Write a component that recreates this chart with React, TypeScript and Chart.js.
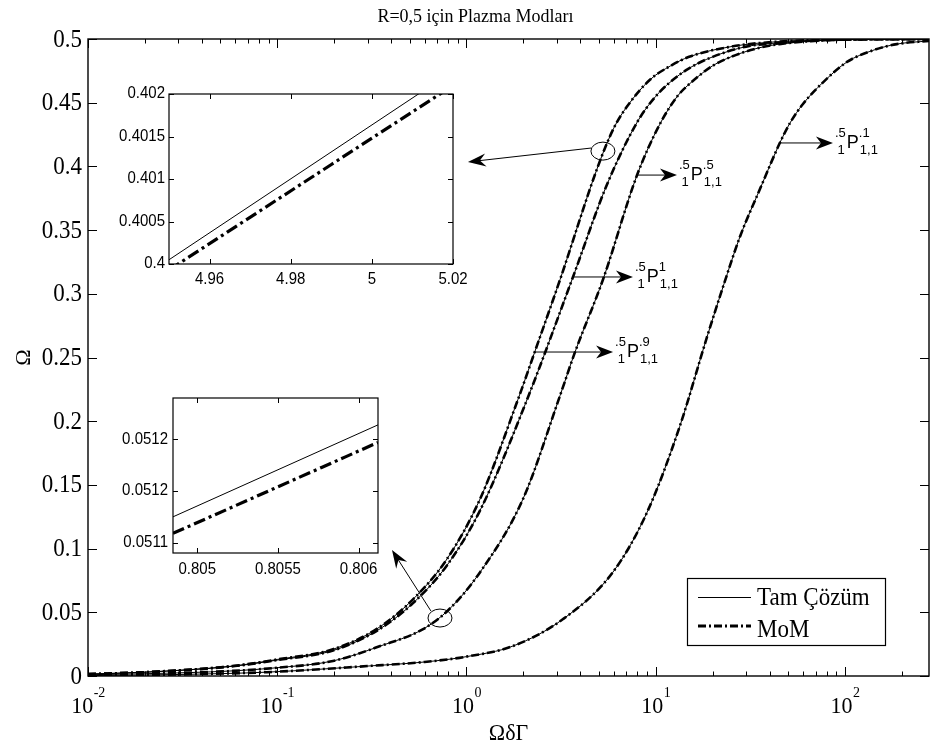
import { useEffect, useRef } from 'react';
import { Chart, registerables } from 'chart.js';
Chart.register(...registerables);

// ---------- data ----------
const xA = [0.01, 0.02, 0.058, 0.1, 0.197, 0.336, 0.52, 0.79, 1.18, 1.87, 2.29, 3.12, 4.95, 6, 7.05, 9.32, 12, 15, 25, 45, 100, 278];
const yA = [0.0015, 0.003, 0.0078, 0.013, 0.021, 0.037, 0.06, 0.092, 0.139, 0.217, 0.254, 0.311, 0.4, 0.43, 0.447, 0.468, 0.479, 0.486, 0.494, 0.498, 0.4995, 0.5];
const xB = [0.01, 0.02, 0.058, 0.1, 0.197, 0.336, 0.52, 0.79, 1.18, 2.09, 3.65, 5.5, 8, 10, 11.9, 15, 20, 30, 45, 100, 278];
const yB = [0.0015, 0.003, 0.0076, 0.0125, 0.02, 0.0355, 0.057, 0.087, 0.13, 0.217, 0.313, 0.385, 0.435, 0.455, 0.466, 0.477, 0.486, 0.494, 0.497, 0.4995, 0.5];
const xC = [0.01, 0.02, 0.058, 0.1, 0.197, 0.35, 0.59, 0.805, 1.18, 1.99, 3.12, 3.74, 5.26, 7.96, 10.5, 13, 15.7, 20, 25, 35, 45, 100, 278];
const yC = [0.001, 0.0018, 0.004, 0.0065, 0.0118, 0.0235, 0.0368, 0.052, 0.0815, 0.139, 0.22, 0.254, 0.311, 0.393, 0.433, 0.455, 0.467, 0.479, 0.486, 0.493, 0.496, 0.4995, 0.5];
const xD = [0.01, 0.03, 0.088, 0.3, 0.6, 1.0, 1.76, 3.24, 5.94, 9.0, 13.4, 18.7, 22.7, 27.9, 35.5, 45.3, 51.2, 60, 76.6, 102.5, 140, 188, 278];
const yD = [0.0003, 0.0012, 0.003, 0.0078, 0.011, 0.0152, 0.0235, 0.0447, 0.0815, 0.1285, 0.196, 0.2665, 0.3056, 0.345, 0.382, 0.4185, 0.434, 0.449, 0.466, 0.482, 0.491, 0.496, 0.4985];

const xMajorTicks = [0.01, 0.1, 1, 10, 100];
const xTickExponents = ['-2', '-1', '0', '1', '2'];
const yTicks = [0, 0.05, 0.1, 0.15, 0.2, 0.25, 0.3, 0.35, 0.4, 0.45, 0.5];
const yTickLabels = ['0', '0.05', '0.1', '0.15', '0.2', '0.25', '0.3', '0.35', '0.4', '0.45', '0.5'];

const titleText = 'R=0,5 için Plazma Modları';
const xAxisTitle = 'ΩδΓ';
const yAxisTitle = 'Ω';
const legendLabels = ['Tam Çözüm', 'MoM'];

// mode labels (arrow start on curve, arrow tip) in data coordinates
const modeSup = ['.1', '.5', '1', '.9'];
const modeArrowFromX = [45.4, 7.96, 3.65, 2.29];
const modeArrowToX = [86.4, 12.95, 7.58, 5.95];
const modeArrowY = [0.4184, 0.3932, 0.3132, 0.2543];

// zoom circles and their arrows (data coordinates)
const circleX = [5.26, 0.7244];
const circleY = [0.412, 0.0455];
const zoomArrowFromX = [4.55, 0.649];
const zoomArrowFromY = [0.4144, 0.051];
const zoomArrowToX = [1.018, 0.404];
const zoomArrowToY = [0.4035, 0.0989];

// upper inset
const upX = [4.95, 5.02];
const upExact = [0.40005, 0.40227];
const upMoM = [0.39993, 0.4021];
const upTicksX = [4.96, 4.98, 5, 5.02];
const upTickLabelsX = ['4.96', '4.98', '5', '5.02'];
const upTicksY = [0.4, 0.4005, 0.401, 0.4015, 0.402];
const upTickLabelsY = ['0.4', '0.4005', '0.401', '0.4015', '0.402'];

// lower inset
const loX = [0.80485, 0.80612];
const loExact = [0.051135, 0.051224];
const loMoM = [0.051119, 0.051207];
const loTicksX = [0.805, 0.8055, 0.806];
const loTickLabelsX = ['0.805', '0.8055', '0.806'];
const loTicksY = [0.05111, 0.05116, 0.05121];
const loTickLabelsY = ['0.0511', '0.0512', '0.0512'];

// ---------- styles ----------
const SERIF = '"Liberation Serif", "Times New Roman", serif';
const SANS = '"Liberation Sans", Arial, sans-serif';
const SY = 1.08;
const MOM_DASH = [8, 3, 2, 3];
const INSET_DASH = [12, 4, 3, 4];

const pts = (xs: number[], ys: number[]) => xs.map((x, i) => ({ x, y: ys[i] }));

function txt(ctx: CanvasRenderingContext2D, s: string, x: number, y: number, font: string, align: CanvasTextAlign, baseline: CanvasTextBaseline = 'alphabetic', sy = SY) {
  ctx.save();
  ctx.translate(x, y);
  ctx.scale(1, sy);
  ctx.font = font;
  ctx.textAlign = align;
  ctx.textBaseline = baseline;
  ctx.fillStyle = '#000';
  ctx.fillText(s, 0, 0);
  ctx.restore();
}

function arrow(ctx: CanvasRenderingContext2D, x1: number, y1: number, x2: number, y2: number, len = 15, half = 6, back = 5) {
  const ang = Math.atan2(y2 - y1, x2 - x1);
  const ux = Math.cos(ang), uy = Math.sin(ang);
  const nx = -uy, ny = ux;
  const bx = x2 - ux * len, by = y2 - uy * len;
  const notchX = x2 - ux * (len - back), notchY = y2 - uy * (len - back);
  ctx.save();
  ctx.strokeStyle = '#000';
  ctx.fillStyle = '#000';
  ctx.lineWidth = 1;
  ctx.beginPath();
  ctx.moveTo(x1, y1);
  ctx.lineTo(notchX, notchY);
  ctx.stroke();
  ctx.beginPath();
  ctx.moveTo(x2, y2);
  ctx.lineTo(bx + nx * half, by + ny * half);
  ctx.lineTo(notchX, notchY);
  ctx.lineTo(bx - nx * half, by - ny * half);
  ctx.closePath();
  ctx.fill();
  ctx.restore();
}

function drawFrame(chart: any, xMaj: number[], xMin: number[], yMaj: number[], majLen: number, minLen: number, lw: number) {
  const { ctx, chartArea: a, scales } = chart;
  const sx = scales.x, sy = scales.y;
  ctx.save();
  ctx.strokeStyle = '#000';
  ctx.lineWidth = lw;
  ctx.strokeRect(a.left, a.top, a.right - a.left, a.bottom - a.top);
  ctx.lineWidth = 1;
  ctx.beginPath();
  const tickX = (v: number, L: number) => {
    const p = Math.round(sx.getPixelForValue(v)) + 0.5;
    ctx.moveTo(p, a.bottom); ctx.lineTo(p, a.bottom - L);
    ctx.moveTo(p, a.top); ctx.lineTo(p, a.top + L);
  };
  xMaj.forEach(v => tickX(v, majLen));
  xMin.forEach(v => tickX(v, minLen));
  yMaj.forEach(v => {
    const p = Math.round(sy.getPixelForValue(v)) + 0.5;
    ctx.moveTo(a.left, p); ctx.lineTo(a.left + majLen, p);
    ctx.moveTo(a.right, p); ctx.lineTo(a.right - majLen, p);
  });
  ctx.stroke();
  ctx.restore();
}

function minorLogTicks(min: number, max: number) {
  const out: number[] = [];
  for (let e = Math.floor(Math.log10(min)); e <= Math.ceil(Math.log10(max)); e++) {
    for (let k = 2; k <= 9; k++) {
      const v = k * Math.pow(10, e);
      if (v > min && v < max) out.push(v);
    }
  }
  return out;
}

const X_MIN = 0.01, X_MAX = 278;

const mainDecor = {
  id: 'mainDecor',
  beforeDraw(chart: any) {
    const { ctx } = chart;
    ctx.save();
    ctx.fillStyle = '#fff';
    ctx.fillRect(0, 0, chart.width, chart.height);
    ctx.restore();
  },
  afterDraw(chart: any) {
    const { ctx, chartArea: a, scales } = chart;
    const sx = scales.x, sy = scales.y;
    drawFrame(chart, xMajorTicks, minorLogTicks(X_MIN, X_MAX), yTicks, 9, 4.5, 1.4);

    // y tick labels
    yTicks.forEach((v, i) => {
      txt(ctx, yTickLabels[i], a.left - 6, sy.getPixelForValue(v) + 1, `23px ${SERIF}`, 'right', 'middle');
    });
    // x tick labels 10^n
    xMajorTicks.forEach((v, i) => {
      const p = sx.getPixelForValue(v);
      ctx.font = `22px ${SERIF}`;
      const w1 = ctx.measureText('10').width;
      ctx.font = `14px ${SERIF}`;
      const w2 = ctx.measureText(xTickExponents[i]).width;
      const start = p - (w1 + w2) / 2;
      txt(ctx, '10', start, a.bottom + 37, `22px ${SERIF}`, 'left');
      txt(ctx, xTickExponents[i], start + w1 + 0.5, a.bottom + 21, `14px ${SERIF}`, 'left');
    });
    // titles
    txt(ctx, titleText, 475.5, 21.5, `18px ${SERIF}`, 'center');
    txt(ctx, xAxisTitle, (a.left + a.right) / 2, a.bottom + 64, `22px ${SERIF}`, 'center');
    ctx.save();
    ctx.translate(24, (a.top + a.bottom) / 2);
    ctx.rotate(-Math.PI / 2);
    txt(ctx, yAxisTitle, 0, 0, `22px ${SERIF}`, 'center', 'middle', 1);
    ctx.restore();

    // mode arrows and labels
    modeSup.forEach((sup, i) => {
      const x1 = sx.getPixelForValue(modeArrowFromX[i]);
      const x2 = sx.getPixelForValue(modeArrowToX[i]);
      const y = sy.getPixelForValue(modeArrowY[i]);
      arrow(ctx, x1, y, x2, y, 17, 6.5, 5);
      const x0 = x2 + 2;
      const yb = y + 5;
      ctx.font = `13px ${SANS}`;
      const lw = Math.max(ctx.measureText('.5').width, ctx.measureText('1').width);
      txt(ctx, '.5', x0 + lw, yb - 11, `13px ${SANS}`, 'right', 'alphabetic', 1);
      txt(ctx, '1', x0 + lw - 1, yb + 6, `13px ${SANS}`, 'right', 'alphabetic', 1);
      const px = x0 + lw + 1;
      ctx.font = `18px ${SANS}`;
      const wp = ctx.measureText('P').width;
      txt(ctx, 'P', px, yb, `18px ${SANS}`, 'left', 'alphabetic', 1);
      txt(ctx, sup, px + wp, yb - 11, `13px ${SANS}`, 'left', 'alphabetic', 1);
      txt(ctx, '1,1', px + wp + 1, yb + 6, `13px ${SANS}`, 'left', 'alphabetic', 1);
    });

    // zoom circles + arrows
    circleX.forEach((cxv, i) => {
      const cx = sx.getPixelForValue(cxv), cy = sy.getPixelForValue(circleY[i]);
      ctx.save();
      ctx.strokeStyle = '#000';
      ctx.lineWidth = 1;
      ctx.beginPath();
      ctx.ellipse(cx, cy, 12, 9, 0, 0, Math.PI * 2);
      ctx.stroke();
      ctx.restore();
      arrow(ctx, sx.getPixelForValue(zoomArrowFromX[i]), sy.getPixelForValue(zoomArrowFromY[i]),
        sx.getPixelForValue(zoomArrowToX[i]), sy.getPixelForValue(zoomArrowToY[i]), 18, 6.5, 6);
    });

    // legend
    const L = 687, T = 578, R = 885, B = 645;
    ctx.save();
    ctx.fillStyle = '#fff';
    ctx.fillRect(L, T, R - L, B - T);
    ctx.strokeStyle = '#000';
    ctx.lineWidth = 1.2;
    ctx.strokeRect(L + 0.5, T + 0.5, R - L, B - T);
    ctx.lineWidth = 1;
    ctx.beginPath();
    ctx.moveTo(698, 597.5); ctx.lineTo(751, 597.5);
    ctx.stroke();
    ctx.lineWidth = 3;
    ctx.setLineDash(MOM_DASH);
    ctx.beginPath();
    ctx.moveTo(698, 626); ctx.lineTo(751, 626);
    ctx.stroke();
    ctx.restore();
    txt(ctx, legendLabels[0], 757, 605, `23px ${SERIF}`, 'left');
    txt(ctx, legendLabels[1], 757, 637, `23px ${SERIF}`, 'left');
  },
};

function insetDecor(ticksX: number[], labelsX: string[], ticksY: number[], labelsY: string[], yLabelGap: number, xLabelOff: number) {
  return {
    id: 'insetDecor',
    beforeDatasetsDraw(chart: any) {
      const { ctx, chartArea: a } = chart;
      ctx.save();
      ctx.fillStyle = '#fff';
      ctx.fillRect(a.left, a.top, a.right - a.left, a.bottom - a.top);
      ctx.restore();
    },
    afterDraw(chart: any) {
      const { ctx, chartArea: a, scales } = chart;
      drawFrame(chart, ticksX, [], ticksY, 5, 3, 1.2);
      ticksY.forEach((v, i) => txt(ctx, labelsY[i], a.left - yLabelGap, scales.y.getPixelForValue(v), `15px ${SANS}`, 'right', 'middle', 1.05));
      ticksX.forEach((v, i) => txt(ctx, labelsX[i], scales.x.getPixelForValue(v), a.bottom + xLabelOff, `15px ${SANS}`, 'center', 'middle', 1.05));
    },
  };
}

function lineDs(data: any[], w: number, dash: number[] = []) {
  return {
    data,
    borderColor: '#000',
    borderWidth: w,
    borderDash: dash,
    pointRadius: 0,
    fill: false,
    cubicInterpolationMode: 'monotone' as const,
  };
}

function baseOptions(padding: any, xType: string, xMin: number, xMax: number, yMin: number, yMax: number) {
  return {
    responsive: false,
    animation: false as const,
    devicePixelRatio: 1,
    layout: { padding },
    events: [],
    plugins: { legend: { display: false }, tooltip: { enabled: false }, title: { display: false } },
    scales: {
      x: { type: xType, min: xMin, max: xMax, display: false },
      y: { type: 'linear', min: yMin, max: yMax, display: false },
    },
  };
}

export default function App() {
  const mainRef = useRef<HTMLCanvasElement>(null);
  const upRef = useRef<HTMLCanvasElement>(null);
  const loRef = useRef<HTMLCanvasElement>(null);

  useEffect(() => {
    const curves = [[xA, yA], [xB, yB], [xC, yC], [xD, yD]];
    const datasets: any[] = [];
    curves.forEach(([xs, ys]) => {
      datasets.push(lineDs(pts(xs, ys), 1));
      datasets.push(lineDs(pts(xs, ys), 2.6, MOM_DASH));
    });
    const main = new Chart(mainRef.current!, {
      type: 'line',
      data: { datasets },
      options: baseOptions({ left: 88, top: 39, right: 1, bottom: 68 }, 'logarithmic', X_MIN, X_MAX, 0, 0.5) as any,
      plugins: [mainDecor],
    });
    const up = new Chart(upRef.current!, {
      type: 'line',
      data: {
        datasets: [
          lineDs(pts(upX, upExact), 1),
          lineDs(pts(upX, upMoM), 3.2, INSET_DASH),
        ],
      },
      options: baseOptions({ left: 69, top: 14, right: 17, bottom: 36 }, 'linear', 4.95, 5.02, 0.4, 0.402) as any,
      plugins: [insetDecor(upTicksX, upTickLabelsX, upTicksY, upTickLabelsY, 4, 16)],
    });
    const lo = new Chart(loRef.current!, {
      type: 'line',
      data: {
        datasets: [
          lineDs(pts(loX, loExact), 1),
          lineDs(pts(loX, loMoM), 3.2, INSET_DASH),
        ],
      },
      options: baseOptions({ left: 73, top: 13, right: 17, bottom: 37 }, 'linear', 0.80485, 0.80612, 0.0511, 0.05125) as any,
      plugins: [insetDecor(loTicksX, loTickLabelsX, loTicksY, loTickLabelsY, 5, 17)],
    });
    return () => {
      main.destroy();
      up.destroy();
      lo.destroy();
    };
  }, []);

  return (
    <div style={{ position: 'fixed', left: 0, top: 0, width: 930, height: 744, background: '#fff' }}>
      <canvas ref={mainRef} width={930} height={744} style={{ position: 'absolute', left: 0, top: 0, width: 930, height: 744 }} />
      <canvas ref={upRef} width={370} height={220} style={{ position: 'absolute', left: 100, top: 80, width: 370, height: 220 }} />
      <canvas ref={loRef} width={295} height={205} style={{ position: 'absolute', left: 100, top: 385, width: 295, height: 205 }} />
    </div>
  );
}
